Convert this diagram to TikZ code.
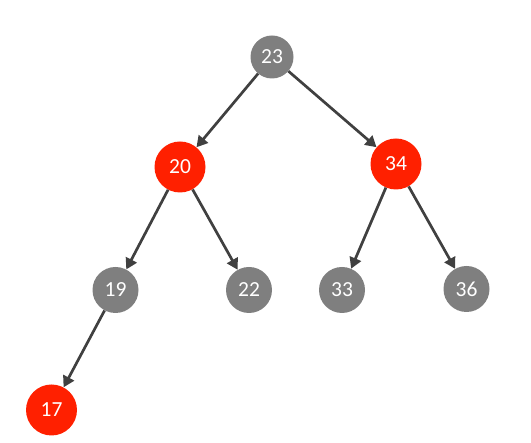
\documentclass[tikz,border=0pt]{standalone}
\usepackage{fontspec}
\setmainfont{Carlito}
\usetikzlibrary{arrows.meta}
\definecolor{ngray}{HTML}{7F7F7F}
\definecolor{nred}{HTML}{FF2000}
\definecolor{edge}{HTML}{404040}
\begin{document}
\begin{tikzpicture}[x=1pt,y=-1pt,
  gnode/.style={circle,fill=ngray,minimum size=46pt,inner sep=0pt,text=white,font=\fontsize{21.5}{21.5}\selectfont},
  rnode/.style={circle,fill=nred,minimum size=51pt,inner sep=0pt,text=white,font=\fontsize{21.5}{21.5}\selectfont},
  link/.style={draw=edge,line width=2.7pt,-{Triangle[length=11pt,width=12pt]},shorten >=0pt}]
\useasboundingbox (0,0) rectangle (531,443);
\node[gnode,minimum size=43pt] (n23) at (272,57) {23};
\node[rnode] (n20) at (180,167) {20};
\node[rnode] (n34) at (396,164) {34};
\node[gnode] (n19) at (115.5,290) {19};
\node[gnode] (n22) at (249,290) {22};
\node[gnode] (n33) at (342,290) {33};
\node[gnode] (n36) at (466.5,289) {36};
\node[rnode] (n17) at (51.5,410) {17};
\draw[link] (n23) -- (n20);
\draw[link] (n23) -- (n34);
\draw[link] (n20) -- (n19);
\draw[link] (n20) -- (n22);
\draw[link] (n34) -- (n33);
\draw[link] (n34) -- (n36);
\draw[link] (n19) -- (n17);
\end{tikzpicture}
\end{document}
